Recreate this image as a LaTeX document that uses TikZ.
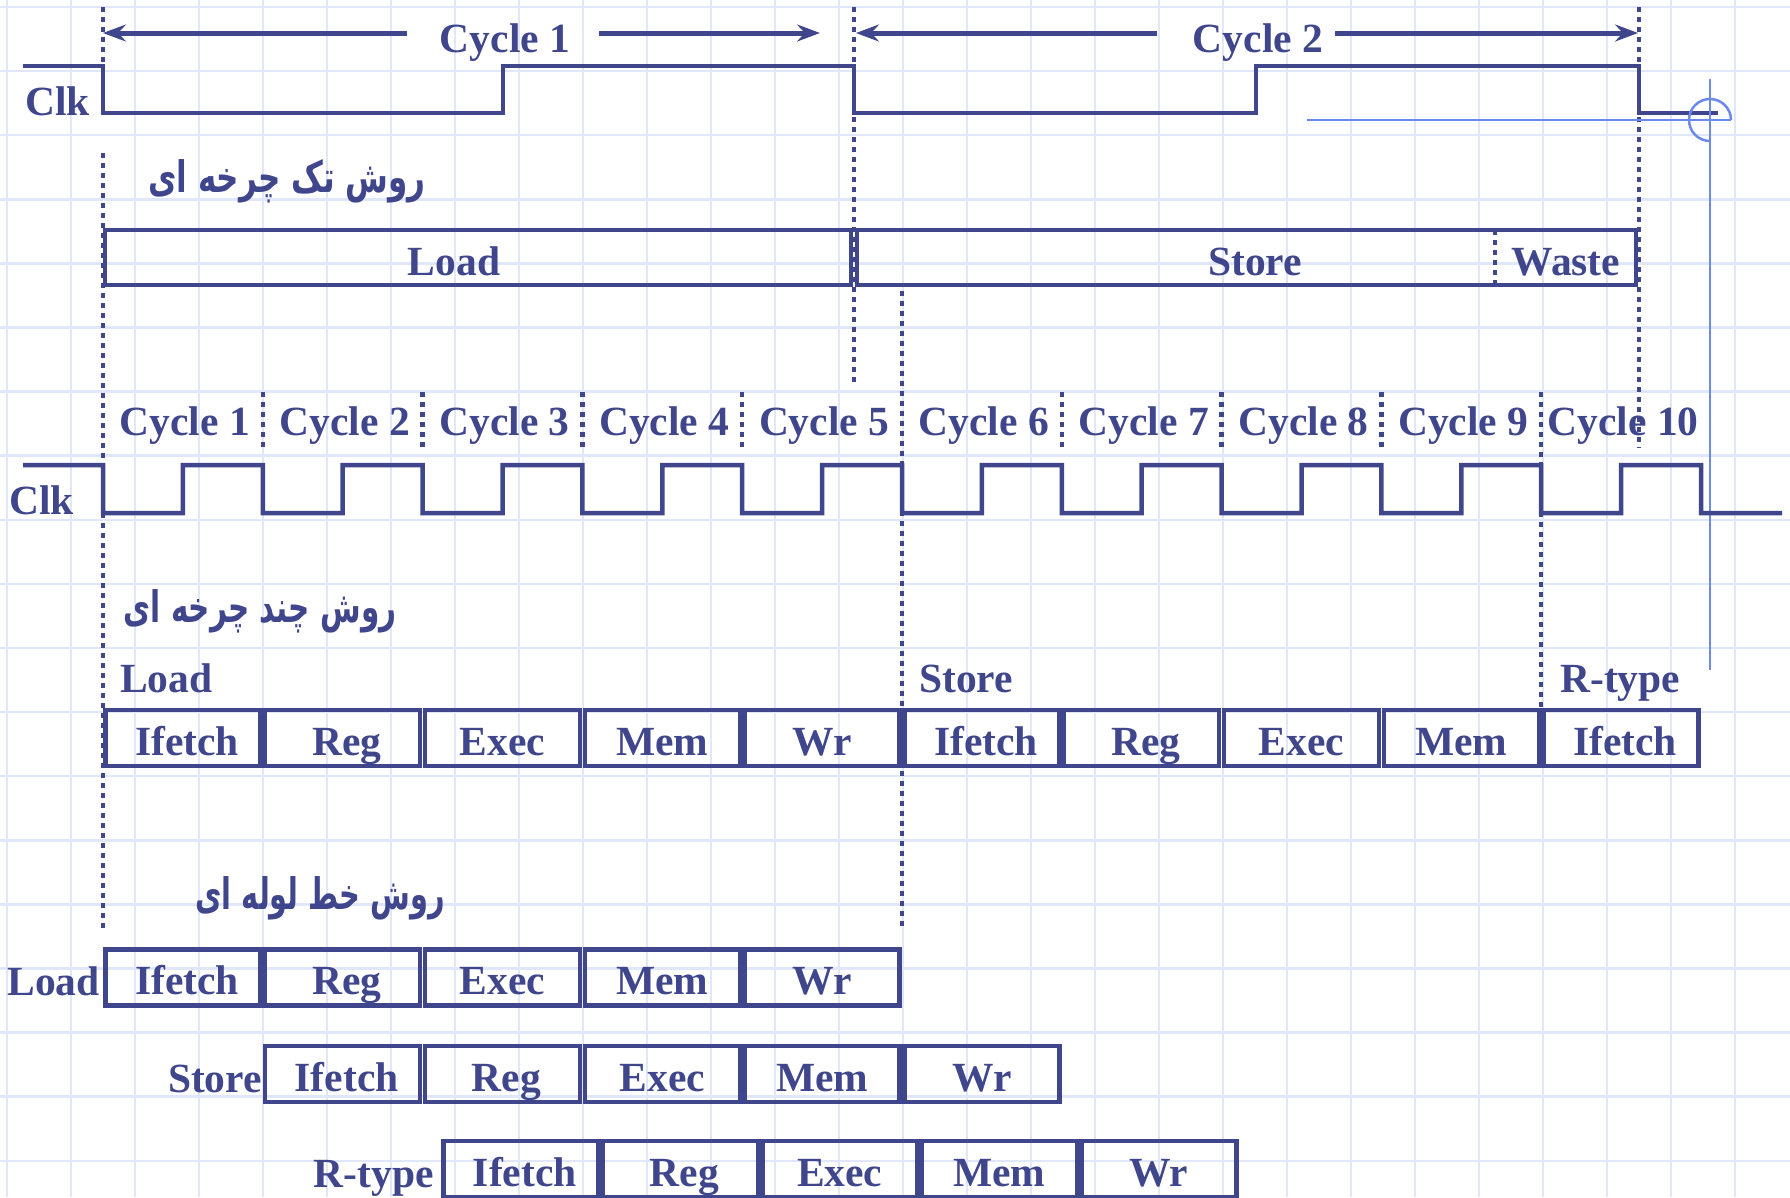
\documentclass[tikz,border=0pt]{standalone}
\usepackage{fontspec}
\setmainfont{Liberation Serif}
\newfontfamily\fa[Script=Arabic]{DejaVu Sans}
\TeXXeTstate=1
\usetikzlibrary{arrows.meta}
\definecolor{ink}{RGB}{64,70,140}
\definecolor{gridc}{RGB}{224,231,250}
\definecolor{cross}{RGB}{108,138,238}
\newcommand{\fatext}[2][1]{\scalebox{#1}[1.4]{\beginR #2\endR}}
\tikzset{
  wave/.style={draw=ink, line width=4.5pt, line join=miter},
  dotln/.style={draw=ink, line width=4.5pt, dash pattern=on 5pt off 5pt},
  boxln/.style={draw=ink, line width=4.5pt},
  lbl/.style={text=ink, font=\bfseries\fontsize{41.5}{48}\selectfont, inner sep=0pt},
  stage/.style={draw=ink, line width=4.5pt, inner sep=0pt, minimum width=155pt, minimum height=56pt,
    text=ink, font=\bfseries\fontsize{41.5}{48}\selectfont, text height=40pt, text depth=6pt},
  persian/.style={text=ink, font=\fa\bfseries\fontsize{31}{36}\selectfont, inner sep=0pt},
  dimarrow/.style={draw=ink, line width=5pt, -{Stealth[length=23pt,width=17pt,inset=8pt]}},
  crossln/.style={draw=cross, line width=2.5pt},
  gridln/.style={draw=gridc, line width=2.5pt}
}
\newcommand{\stg}[1]{\ifnum\pdfstrcmp{#1}{Ifetch}=0 \hspace*{8pt}#1\else\ifnum\pdfstrcmp{#1}{Reg}=0 \hspace*{8pt}#1\else #1\fi\fi}
\begin{document}
\begin{tikzpicture}[x=1pt,y=-1pt]
\useasboundingbox (0,0) rectangle (1790,1197);
\clip (0,0) rectangle (1790,1197);
\fill[white] (0,0) rectangle (1790,1197);
% background grid
\foreach \i in {0,...,27} \draw[gridln] ({7+64*\i},0) -- ({7+64*\i},1197);
\foreach \j in {0,...,18} \draw[gridln] (0,{7+64.1*\j}) -- (1790,{7+64.1*\j});

% ---------- single cycle ----------
\node[lbl, anchor=base] (cyc1) at (505,52) {Cycle 1};
\node[lbl, anchor=base] (cyc2) at (1258,52) {Cycle 2};
\coordinate (a1) at (407,33); \coordinate (a1t) at (103,33);
\coordinate (a2) at (599,33); \coordinate (a2t) at (820,33);
\coordinate (b1) at (1157,33); \coordinate (b1t) at (856,33);
\coordinate (b2) at (1335,33); \coordinate (b2t) at (1638,33);
\draw[dimarrow] (a1) -- (a1t);
\draw[dimarrow] (a2) -- (a2t);
\draw[dimarrow] (b1) -- (b1t);
\draw[dimarrow] (b2) -- (b2t);

\draw[dotln] (103,7) -- (103,66);
\draw[dotln] (103,153) -- (103,928);
\draw[dotln] (854,7) -- (854,382);
\draw[dotln] (1639,7) -- (1639,448);
\draw[dotln] (902,291) -- (902,930);
\draw[dotln] (1541,392) -- (1541,708);
\foreach \k in {1,2,3,4,6,7,8} \draw[dotln] ({103+\k*159.8},392) -- ({103+\k*159.8},448);

\draw[wave] (23,66) -- (103,66) -- (103,113) -- (503,113) -- (503,66) -- (854,66) -- (854,113)
  -- (1256,113) -- (1256,66) -- (1639,66) -- (1639,113) -- (1718,113);
\node[lbl, anchor=base west] (clk1) at (25,115) {Clk};

% blue crosshair
\draw[crossln] (1307,120) -- (1731,120);
\draw[crossln] (1710,79) -- (1710,670);
\draw[crossln] (1731,120) arc[start angle=0, end angle=-270, radius=21];

\node[persian, anchor=base] (p1) at (287,192) {\fatext{روش تک چرخه ای}};

\draw[boxln] (105,230) rectangle (851,285);
\draw[boxln] (857,230) rectangle (1636,285);
\draw[dotln] (1495,230) -- (1495,285);
\node[lbl, anchor=base] (sl) at (454,275) {Load};
\node[lbl, anchor=base] (ss) at (1255,275) {Store};
\node[lbl, anchor=base] (sw) at (1566,275) {Waste};

% ---------- multiple cycle ----------
\foreach \k in {1,...,10} \node[lbl, anchor=base] (cy\k) at ({105+(\k-0.5)*159.8},435) {Cycle \k};
\draw[wave] (23,465) -- (103,465) foreach \k in {0,...,9} {
  -- ({103+\k*159.8},513) -- ({182.9+\k*159.8},513) -- ({182.9+\k*159.8},465) -- ({262.8+\k*159.8},465) }
  -- (1701,513) -- (1782,513);
\node[lbl, anchor=base west] (clk2) at (9,514) {Clk};

\node[persian, anchor=base] (p2) at (260,622) {\fatext[0.95]{روش چند چرخه ای}};
\node[lbl, anchor=base west] (ml) at (120,692) {Load};
\node[lbl, anchor=base west] (ms) at (919,692) {Store};
\node[lbl, anchor=base west] (mr) at (1560,692) {R-type};
\foreach \t [count=\k from 0] in {Ifetch,Reg,Exec,Mem,Wr,Ifetch,Reg,Exec,Mem,Ifetch}
  \node[stage] (m\k) at ({103+(\k+0.5)*159.8},738) {\stg{\t}};

% ---------- pipeline ----------
\node[persian, anchor=base] (p3) at (320,909) {\fatext[0.93]{روش خط لوله ای}};
\foreach \t [count=\k from 0] in {Ifetch,Reg,Exec,Mem,Wr}{
  \node[stage] (l\k) at ({103+(\k+0.5)*159.8},977.5) {\stg{\t}};
  \node[stage] (s\k) at ({262.8+(\k+0.5)*159.8},1074) {\stg{\t}};
  \node[stage] (r\k) at ({441+(\k+0.5)*159.5},1169) {\stg{\t}};
}
\node[lbl, anchor=base east] (pl) at (100,995) {Load};
\node[lbl, anchor=base east] (ps) at (262,1092) {Store};
\node[lbl, anchor=base east] (pr) at (434,1187) {R-type};
\end{tikzpicture}
\end{document}
